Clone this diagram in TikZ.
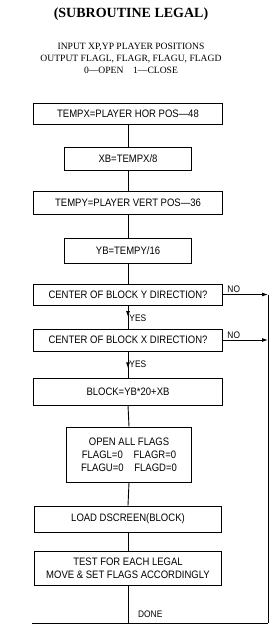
\documentclass[tikz,border=0pt]{standalone}
\usepackage{fontspec}
\setmainfont{Liberation Serif}
\newfontfamily\boxfont{Liberation Sans}[FakeStretch=0.88]
\usetikzlibrary{arrows.meta,positioning,calc,decorations.markings}

\begin{document}
\begin{tikzpicture}[x=1pt,y=-1pt,
  box/.style={draw,line width=0.9pt,inner sep=2pt,align=center,
    font=\boxfont\fontsize{10.8}{12.8}\selectfont},
  wide/.style={box,minimum width=189pt},
  narrow/.style={box,minimum width=127pt},
  ln/.style={line width=0.9pt},
  ar/.style={ln,-{Latex[length=6pt,width=4pt]}},
  midar/.style={ln,postaction={decorate},decoration={markings,
    mark=at position #1 with {\arrow{Latex[length=6pt,width=4pt]}}}},
  lb/.style={font=\boxfont\fontsize{9.5}{11}\selectfont,inner sep=1pt}]

\useasboundingbox (0,0) rectangle (276,632);

% heading
\node[font=\bfseries\fontsize{14}{16}\selectfont] (ttl) at (131,14) {(SUBROUTINE LEGAL)};
\node[align=center,font=\fontsize{9.6}{12}\selectfont] (hdr) at (131,58)
  {INPUT XP,YP PLAYER POSITIONS\\OUTPUT FLAGL, FLAGR, FLAGU, FLAGD\\0—OPEN\quad 1—CLOSE};

% steps
\node[wide,minimum height=21pt] (tx) at (128,113.5) {TEMPX=PLAYER HOR POS—48};
\node[narrow,minimum height=23pt] (xb) at (128,158.5) {XB=TEMPX/8};
\node[wide,minimum height=23pt] (ty) at (128,202.5) {TEMPY=PLAYER VERT POS—36};
\node[narrow,minimum height=25pt] (yb) at (128,250.5) {YB=TEMPY/16};
\node[wide,minimum height=21pt] (cy) at (128,294.5) {CENTER OF BLOCK Y DIRECTION?};
\node[wide,minimum height=22pt] (cx) at (128,340) {CENTER OF BLOCK X DIRECTION?};
\node[wide,minimum height=27pt] (blk) at (128,391.5) {BLOCK=YB*20+XB};
\node[box,minimum width=125pt,minimum height=55pt] (opn) at (129,454.5)
  {OPEN ALL FLAGS\\FLAGL=0\quad FLAGR=0\\FLAGU=0\quad FLAGD=0};
\node[box,minimum width=187pt,minimum height=26pt] (ld) at (128,519) {LOAD DSCREEN(BLOCK)};
\node[box,minimum width=187pt,minimum height=34pt] (tst) at (128,568)
  {TEST FOR EACH LEGAL\\MOVE \& SET FLAGS ACCORDINGLY};

\coordinate (lf) at (32,623);
\coordinate (rt) at (268,623);
\coordinate (dn) at (128,623);

\draw[ln] (tx.south) -- (xb.north);
\draw[ln] (xb.south) -- (ty.north);
\draw[ln] (ty.south) -- (yb.north);
\draw[ln] (yb.south) -- (cy.north);
\draw[midar=0.5] (cy.south) -- node[lb,right,pos=0.55] (yes1) {YES} (cx.north);
\draw[midar=0.65] (cx.south) -- node[lb,right,pos=0.5] (yes2) {YES} (blk.north);
\draw[ln] (blk.south) -- (opn.north);
\draw[ln] (opn.south) -- (ld.north);
\draw[ln] (ld.south) -- (tst.north);
\draw[ln] (tst.south) -- (dn);

% no branches
\draw[ar] (cy.east) -- node[lb,above,pos=0.24] (no1) {NO} (cy.east -| rt);
\draw[ar] (cx.east) -- node[lb,above,pos=0.24] (no2) {NO} (cx.east -| rt);
\draw[ln] (cy.east -| rt) -- (rt);
\draw[ln] (lf) -- (rt);
\node[lb,anchor=west] (dne) at (137,614) {DONE};
\end{tikzpicture}
\end{document}
